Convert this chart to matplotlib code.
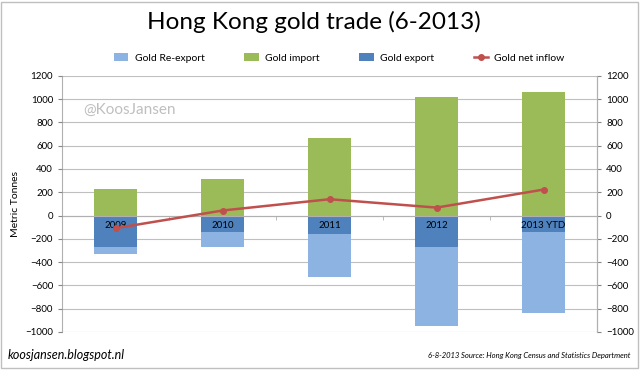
import numpy as np
import matplotlib.pyplot as plt
from matplotlib.patches import Rectangle

plt.rcParams['font.family'] = ['Lato', 'DejaVu Sans']

years = ['2009', '2010', '2011', '2012', '2013 YTD']
reexport = [-60, -128, -369, -678, -694]
imports = [231, 314, 669, 1017, 1057]
exports = [-271, -143, -160, -271, -140]
net_inflow = [-109, 43, 140, 68, 223]

c_re = '#8DB3E2'
c_imp = '#9BBB59'
c_exp = '#4F81BD'
c_net = '#C0504D'

fig = plt.figure(figsize=(6.4, 3.7), dpi=100)
ax = fig.add_axes([0.097, 0.103, 0.836, 0.692])
x = np.arange(len(years))
w = 0.4
ticks = range(-1000, 1201, 200)

b1 = ax.bar(x, reexport, w, bottom=exports, color=c_re, label='Gold Re-export', zorder=2)
b2 = ax.bar(x, imports, w, color=c_imp, label='Gold import', zorder=2)
b3 = ax.bar(x, exports, w, color=c_exp, label='Gold export', zorder=2)
l1, = ax.plot(x, net_inflow, color=c_net, lw=1.8, marker='o', ms=4, label='Gold net inflow', zorder=3)

# gridlines behind the bars, axis (and category labels) in front
for t in ticks:
    ax.axhline(t, color='#BFBFBF', lw=0.8, zorder=0.5)
ax.set_axisbelow(False)

ax.set_xlim(-0.5, len(years) - 0.5)
ax.set_ylim(-1000, 1200)
ax.set_yticks(ticks)
ax.tick_params(axis='y', labelsize=7, length=3, color='#868686')
ax.set_ylabel('Metric Tonnes', fontsize=7.5, labelpad=4)

ax.spines['bottom'].set_position(('data', 0))
ax.spines['top'].set_visible(False)
for s in ['bottom', 'left', 'right']:
    ax.spines[s].set_color('#B0B0B0')
ax.set_xticks(x)
ax.set_xticklabels(years, fontsize=7)
ax.tick_params(axis='x', length=0, pad=4)
ax.set_xticks(np.arange(0.5, len(years) - 1, 1), minor=True)
ax.tick_params(axis='x', which='minor', length=3, color='#B0B0B0')

ax2 = ax.twinx()
ax2.set_ylim(ax.get_ylim())
ax2.set_yticks(ticks)
ax2.tick_params(axis='y', labelsize=7, length=3, color='#868686')
for s in ['top', 'bottom', 'left']:
    ax2.spines[s].set_visible(False)
ax2.spines['right'].set_color('#B0B0B0')

ax.text(0.04, 0.85, '@KoosJansen', transform=ax.transAxes, fontsize=11, color='#BFBFBF')

fig.text(0.49, 0.94, 'Hong Kong gold trade (6-2013)', ha='center', va='center', fontsize=17.5)
fig.legend([b1, b2, b3, l1], ['Gold Re-export', 'Gold import', 'Gold export', 'Gold net inflow'],
           loc='center', bbox_to_anchor=(0.53, 0.843), ncol=4, frameon=False, fontsize=7.5,
           handlelength=1.4, columnspacing=3.8, handletextpad=0.6)

fig.text(0.012, 0.04, 'koosjansen.blogspot.nl', fontsize=9, style='italic', va='center')
fig.text(0.985, 0.04, '6-8-2013 Source: Hong Kong Census and Statistics Department',
         fontsize=5.5, style='italic', ha='right', va='center')

fig.patches.append(Rectangle((0.002, 0.005), 0.995, 0.99, transform=fig.transFigure,
                             fill=False, edgecolor='#BFBFBF', lw=1))

fig.savefig('out.png', dpi=100)
